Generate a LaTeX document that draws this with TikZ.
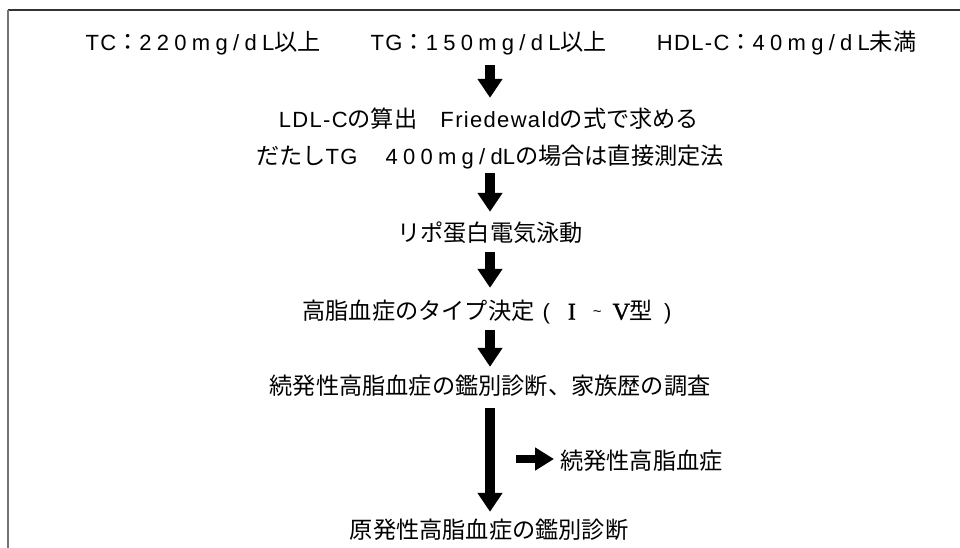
\documentclass[tikz,border=0pt]{standalone}
\usepackage{fontspec}
\setmainfont{Liberation Sans}[LetterSpace=6]
\newfontfamily\jpfont{Noto Sans CJK JP}
\newfontfamily\wide{Liberation Sans}[LetterSpace=24]
\newfontfamily\plainsans{Liberation Sans}
\newfontfamily\numserif{Liberation Serif}[FakeBold=1.2]
\newcommand\J[1]{{\jpfont\fontsize{23.2}{26}\selectfont #1}}
\usetikzlibrary{arrows.meta}

\tikzset{
  x=1pt, y=-1pt,
  txt/.style={inner sep=0pt, font=\fontsize{22}{26}\selectfont,
    text height=17.2pt, text depth=0pt, anchor=center},
  flow/.style={line width=10pt, -{Triangle[width=24pt,length=19pt]}},
  side/.style={line width=8pt, -{Triangle[width=22pt,length=19pt]}},
  topedge/.style={draw=black!80, line width=1.3pt},
  leftedge/.style={draw=black!55, line width=1.6pt},
}

\begin{document}
\begin{tikzpicture}
  \useasboundingbox (0,0) rectangle (960,548);

  % open frame: top and left edges only
  \draw[topedge] (8,10) -- (960,10);
  \draw[leftedge] (8,10) -- (8,548);

  % arrow column
  \coordinate (axis) at (490,0);

  % steps
  \node[txt] (l1) at (501,42) {TC\J{：}{\wide 220mg/dL}\J{以上}\hspace{50pt}TG\J{：}{\wide 150mg/dL}\J{以上}\hspace{50pt}HDL-C\J{：}{\wide 40mg/dL}\J{未満}};
  \node[txt] (l2) at (489,119) {LDL-C\J{の算出　}Friedewald\J{の式で求める}};
  \node[txt] (l3) at (490,156) {\J{だたし}TG\hspace{28pt}{\wide 400mg/d}L\J{の場合は直接測定法}};
  \node[txt] (l4) at (490,233) {\J{リポ蛋白電気泳動}};
  \node[txt] (l5) at (487,311) {\J{高脂血症のタイプ決定}\hspace{8pt}{\plainsans (}\hspace{18pt}{\numserif\fontsize{24}{26}\selectfont I}\hspace{17pt}{\plainsans\fontsize{15}{15}\selectfont\raisebox{3pt}{\char`\~}}\hspace{11pt}{\numserif\fontsize{24}{26}\selectfont V}\J{型}\hspace{11pt}{\plainsans )}};
  \node[txt] (l6) at (490,386) {\J{続発性高脂血症の鑑別診断、家族歴の調査}};
  \node[txt, anchor=west] (l7s) at (560,461) {\J{続発性高脂血症}};
  \node[txt] (l8) at (489,530) {\J{原発性高脂血症の鑑別診断}};

  % connectors
  \draw[flow, shorten <=14.4pt, shorten >=12.4pt] (l1.south -| axis) -- (l2.north -| axis);
  \draw[flow, shorten <=8.4pt,  shorten >=12.4pt] (l3.south -| axis) -- (l4.north -| axis);
  \draw[flow, shorten <=10.4pt, shorten >=14.4pt] (l4.south -| axis) -- (l5.north -| axis);
  \draw[flow, shorten <=10.4pt, shorten >=10.4pt] (l5.south -| axis) -- (l6.north -| axis);
  \draw[flow, shorten <=13.4pt, shorten >=9.4pt]  (l6.south -| axis) -- (l8.north -| axis);

  % branch to secondary hyperlipidemia
  \coordinate (branch) at (516,459);
  \draw[side, shorten >=6pt] (branch) -- (branch -| l7s.west);
\end{tikzpicture}
\end{document}
